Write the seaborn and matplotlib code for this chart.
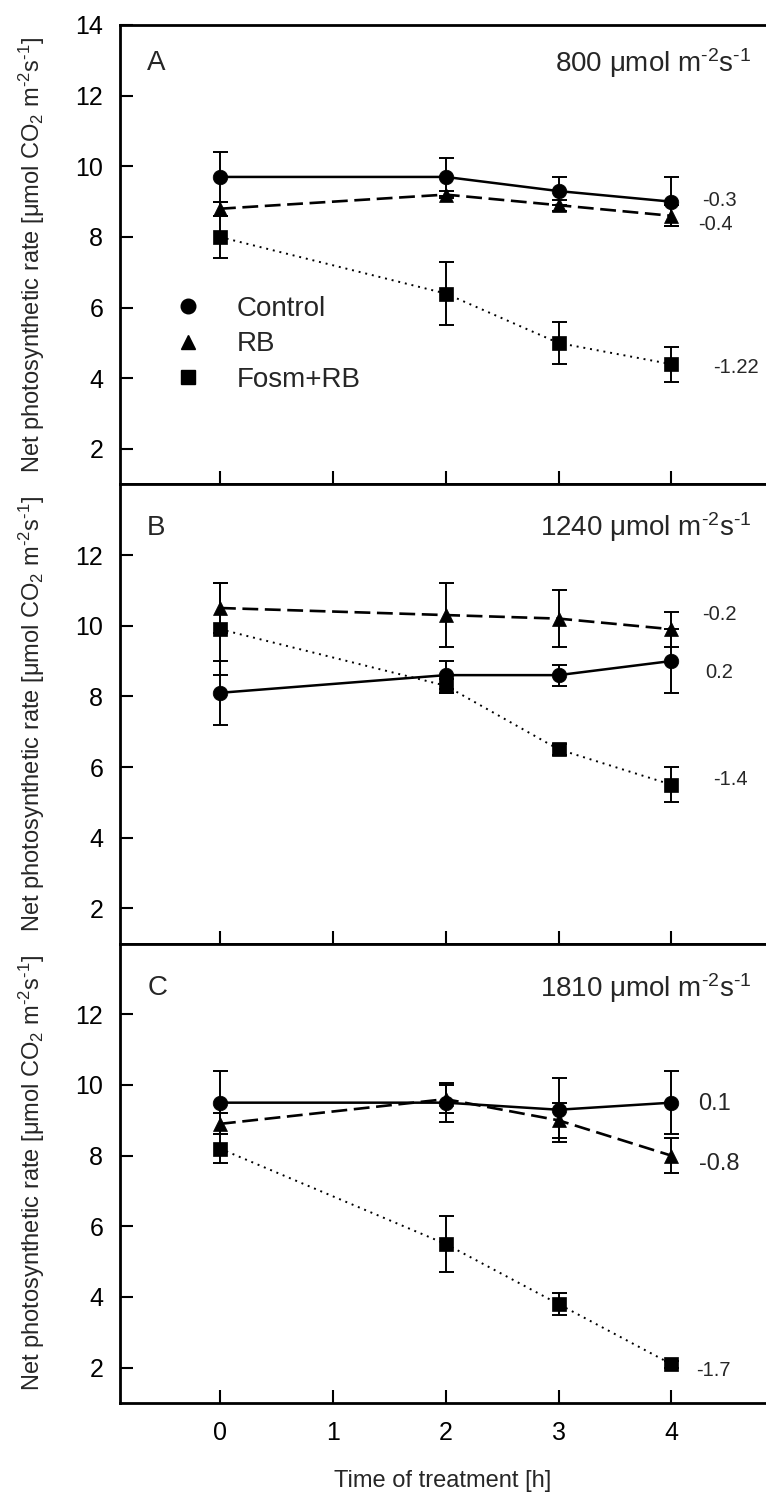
import matplotlib
matplotlib.use("Agg")
import matplotlib.pyplot as plt
from matplotlib.lines import Line2D
import numpy as np
import pandas as pd
import seaborn as sns

# ---- data -------------------------------------------------------------
times = [0, 2, 3, 4]
x_ticks = [0, 1, 2, 3, 4]
treatments = ["Control", "RB", "Fosm+RB"]
panel_letters = ["A", "B", "C"]
irradiances = ["800", "1240", "1810"]

# panel A (800 µmol m-2 s-1)
a_control = [9.7, 9.7, 9.3, 9.0]
a_control_err = [0.7, 0.55, 0.4, 0.7]
a_rb = [8.8, 9.2, 8.9, 8.6]
a_rb_err = [0.2, 0.1, 0.15, 0.3]
a_fosm = [8.0, 6.4, 5.0, 4.4]
a_fosm_err = [0.6, 0.9, 0.6, 0.5]

# panel B (1240 µmol m-2 s-1)
b_control = [8.1, 8.6, 8.6, 9.0]
b_control_err = [0.9, 0.4, 0.3, 0.9]
b_rb = [10.5, 10.3, 10.2, 9.9]
b_rb_err = [0.7, 0.9, 0.8, 0.5]
b_fosm = [9.9, 8.3, 6.5, 5.5]
b_fosm_err = [1.3, 0.2, 0.15, 0.5]

# panel C (1810 µmol m-2 s-1)
c_control = [9.5, 9.5, 9.3, 9.5]
c_control_err = [0.9, 0.55, 0.9, 0.9]
c_rb = [8.9, 9.6, 9.0, 8.0]
c_rb_err = [0.3, 0.4, 0.5, 0.5]
c_fosm = [8.2, 5.5, 3.8, 2.1]
c_fosm_err = [0.4, 0.8, 0.3, 0.1]

# slopes of the regression lines
a_slopes = ["-0.3", "-0.4", "-1.22"]
b_slopes = ["-0.2", "0.2", "-1.4"]
c_slopes = ["0.1", "-0.8", "-1.7"]

# ---- long table ---------------------------------------------------------
panels = {
    "A": ([a_control, a_rb, a_fosm], [a_control_err, a_rb_err, a_fosm_err]),
    "B": ([b_control, b_rb, b_fosm], [b_control_err, b_rb_err, b_fosm_err]),
    "C": ([c_control, c_rb, c_fosm], [c_control_err, c_rb_err, c_fosm_err]),
}
rows = []
for p, (means, errs) in panels.items():
    for t, m, e in zip(treatments, means, errs):
        for x, v, s in zip(times, m, e):
            rows.append({"panel": p, "treatment": t, "time": x, "rate": v, "err": s})
df = pd.DataFrame(rows)

# ---- styling ------------------------------------------------------------
sns.set_theme(style="ticks")
plt.rcParams["font.family"] = ["Liberation Sans", "DejaVu Sans"]
plt.rcParams["mathtext.fontset"] = "custom"
plt.rcParams["mathtext.rm"] = "Liberation Sans"
plt.rcParams["mathtext.it"] = "Liberation Sans:italic"
plt.rcParams["mathtext.default"] = "regular"
plt.rcParams["axes.unicode_minus"] = False

line_style = {
    "Control": dict(marker="o", ms=10.5, linestyle="-", lw=1.8),
    "RB": dict(marker="^", ms=10.5, linestyle=(0, (6, 2.5)), lw=1.9),
    "Fosm+RB": dict(marker="s", ms=10, linestyle=(0, (1, 2.5)), lw=1.4),
}

slope_text = {
    "A": [(a_slopes[0], 4.27, 9.04, 14.5), (a_slopes[1], 4.24, 8.35, 14.5),
          (a_slopes[2], 4.37, 4.30, 14.5)],
    "B": [(b_slopes[0], 4.27, 10.32, 14.5), (b_slopes[1], 4.30, 8.67, 14.5),
          (b_slopes[2], 4.37, 5.64, 14.5)],
    "C": [(c_slopes[0], 4.24, 9.46, 17), (c_slopes[1], 4.24, 7.76, 17),
          (c_slopes[2], 4.22, 1.91, 14.5)],
}

W, H = 766, 1494
fig = plt.figure(figsize=(W / 100, H / 100), dpi=100)
left_px, top_px, bottom_px = 120, 25, 1403
panel_h = (bottom_px - top_px) / 3

HY = "\u2010"  # short hyphen used in the unit exponents
unit = f"m$^{{{HY}2}}$s$^{{{HY}1}}$"
ylabel = f"Net photosynthetic rate [μmol CO$_2$ {unit}]"
title_y = {"A": 0.918, "B": 0.906, "C": 0.903}

for i, (p, irr) in enumerate(zip(panel_letters, irradiances)):
    ax_bottom = 1 - (bottom_px - (2 - i) * panel_h) / H
    ax = fig.add_axes([left_px / W, ax_bottom, 1 - left_px / W, panel_h / H])
    sub = df[df["panel"] == p]
    for t in treatments:
        d = sub[sub["treatment"] == t]
        st = line_style[t]
        ax.errorbar(d["time"], d["rate"], yerr=d["err"], fmt="none", ecolor="black",
                    elinewidth=1.4, capsize=5.4, capthick=1.4, zorder=2)
        sns.lineplot(data=d, x="time", y="rate", ax=ax, color="black",
                     marker=st["marker"], markersize=st["ms"], markeredgecolor="black",
                     markeredgewidth=0.5, linestyle=st["linestyle"], linewidth=st["lw"],
                     errorbar=None, zorder=3)

    ax.set_xlim(-0.886, 4.838)
    ax.set_ylim(1, 14)
    ax.set_xticks(x_ticks)
    if p == "A":
        ax.set_yticks([2, 4, 6, 8, 10, 12, 14])
    else:
        ax.set_yticks([2, 4, 6, 8, 10, 12])
    ax.tick_params(direction="in", length=9.4, width=1.5, labelsize=18,
                   colors="black", pad=12)
    ax.tick_params(axis="x", pad=13)
    if p != "C":
        ax.tick_params(axis="x", labelbottom=False)
        ax.set_xlabel("")
    else:
        ax.set_xlabel("Time of treatment [h]", fontsize=17, labelpad=18)

    ax.set_ylabel(ylabel, fontsize=17)
    ax.yaxis.set_label_coords(-0.113, 0.5)

    for side in ["left", "top", "bottom"]:
        ax.spines[side].set_linewidth(2)
        ax.spines[side].set_color("black")
    ax.spines["right"].set_visible(False)

    ax.text(0.042, title_y[p], p, transform=ax.transAxes, fontsize=20,
            ha="left", va="center")
    ax.text(0.978, title_y[p], f"{irr} μmol {unit}",
            transform=ax.transAxes, fontsize=20, ha="right", va="center")

    for txt, x, y, fs in slope_text[p]:
        ax.text(x, y, txt, fontsize=fs, ha="left", va="center")

    if p == "A":
        handles = [Line2D([], [], color="black", marker=line_style[t]["marker"],
                          markersize=line_style[t]["ms"], linestyle="none")
                   for t in treatments]
        ax.legend(handles, treatments, loc="upper left", bbox_to_anchor=(0.0836, 0.411),
                  frameon=False, fontsize=20, handlelength=1.0, handletextpad=1.25,
                  labelspacing=0.35, borderpad=0, borderaxespad=0)

fig.savefig("out.png", dpi=100)
